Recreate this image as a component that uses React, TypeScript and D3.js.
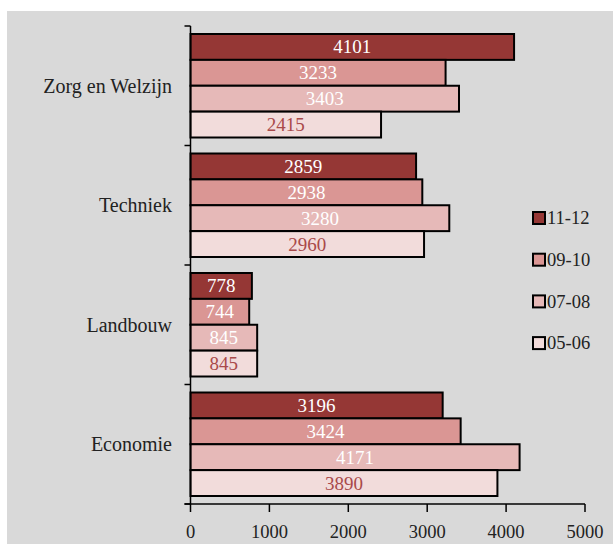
import React from 'react';
import * as d3 from 'd3';

const categories = ['Zorg en Welzijn', 'Techniek', 'Landbouw', 'Economie'];
const seriesNames = ['11-12', '09-10', '07-08', '05-06'];
const values11_12 = [4101, 2859, 778, 3196];
const values09_10 = [3233, 2938, 744, 3424];
const values07_08 = [3403, 3280, 845, 4171];
const values05_06 = [2415, 2960, 845, 3890];
const xTicks = [0, 1000, 2000, 3000, 4000, 5000];

const seriesValues = [values11_12, values09_10, values07_08, values05_06];
const fills = ['#953735', '#da9694', '#e6b9b8', '#f2dcdb'];
const labelColors = ['#ffffff', '#ffffff', '#ffffff', '#a94a4a'];

const W = 613;
const H = 544;
const font = 'Liberation Serif';

const App = () => {
  const x = d3.scaleLinear().domain([0, 5000]).range([190.5, 585]);
  const y = d3.scaleBand().domain(categories).range([26, 504]).padding(0);
  const inner = d3
    .scaleBand()
    .domain(seriesNames)
    .range([8, y.bandwidth() - 8])
    .padding(0);

  // band boundaries for the left axis ticks
  const boundaries = categories.map(c => y(c)).concat([504]);

  return (
    <svg
      width={W}
      height={H}
      style={{ position: 'absolute', left: 0, top: 0, display: 'block' }}
    >
      <rect x={7} y={11} width={W - 7} height={H - 11} fill="#d9d9d9" />

      {/* bars */}
      {categories.map((cat, ci) => (
        <g key={cat} transform={`translate(0,${y(cat)})`}>
          {seriesNames.map((s, si) => {
            const v = seriesValues[si][ci];
            const by = inner(s);
            const bh = inner.bandwidth();
            return (
              <g key={s}>
                <rect
                  x={x(0)}
                  y={by}
                  width={x(v) - x(0)}
                  height={bh}
                  fill={fills[si]}
                  stroke="#000"
                  strokeWidth={2}
                />
                <text
                  x={(x(0) + x(v)) / 2}
                  y={by + bh / 2}
                  dy="0.34em"
                  textAnchor="middle"
                  fontFamily={font}
                  fontSize={19}
                  fill={labelColors[si]}
                >
                  {v}
                </text>
              </g>
            );
          })}
          <text
            x={172}
            y={y.bandwidth() / 2}
            dy="0.34em"
            textAnchor="end"
            fontFamily={font}
            fontSize={20}
            fill="#222"
          >
            {cat}
          </text>
        </g>
      ))}

      {/* left axis */}
      <line x1={x(0)} x2={x(0)} y1={26} y2={504} stroke="#000" strokeWidth={1.5} />
      {boundaries.map((b, i) => (
        <line key={i} x1={x(0) - 6} x2={x(0)} y1={b} y2={b} stroke="#000" strokeWidth={1.5} />
      ))}

      {/* bottom axis */}
      <line x1={x(0) - 6} x2={x(5000)} y1={504} y2={504} stroke="#000" strokeWidth={1.5} />
      {xTicks.map(t => (
        <g key={t}>
          <line x1={x(t)} x2={x(t)} y1={504} y2={512} stroke="#000" strokeWidth={1.5} />
          <text
            x={x(t)}
            y={532}
            dy="0.34em"
            textAnchor="middle"
            fontFamily={font}
            fontSize={18.5}
            fill="#222"
          >
            {t}
          </text>
        </g>
      ))}

      {/* legend */}
      {seriesNames.map((s, i) => {
        const ly = 218 + i * 41.7;
        return (
          <g key={s}>
            <rect x={533} y={ly - 6} width={12} height={12} fill={fills[i]} stroke="#000" strokeWidth={2} />
            <text x={547} y={ly} dy="0.34em" fontFamily={font} fontSize={18.5} fill="#222">
              {s}
            </text>
          </g>
        );
      })}
    </svg>
  );
};

export default App;
